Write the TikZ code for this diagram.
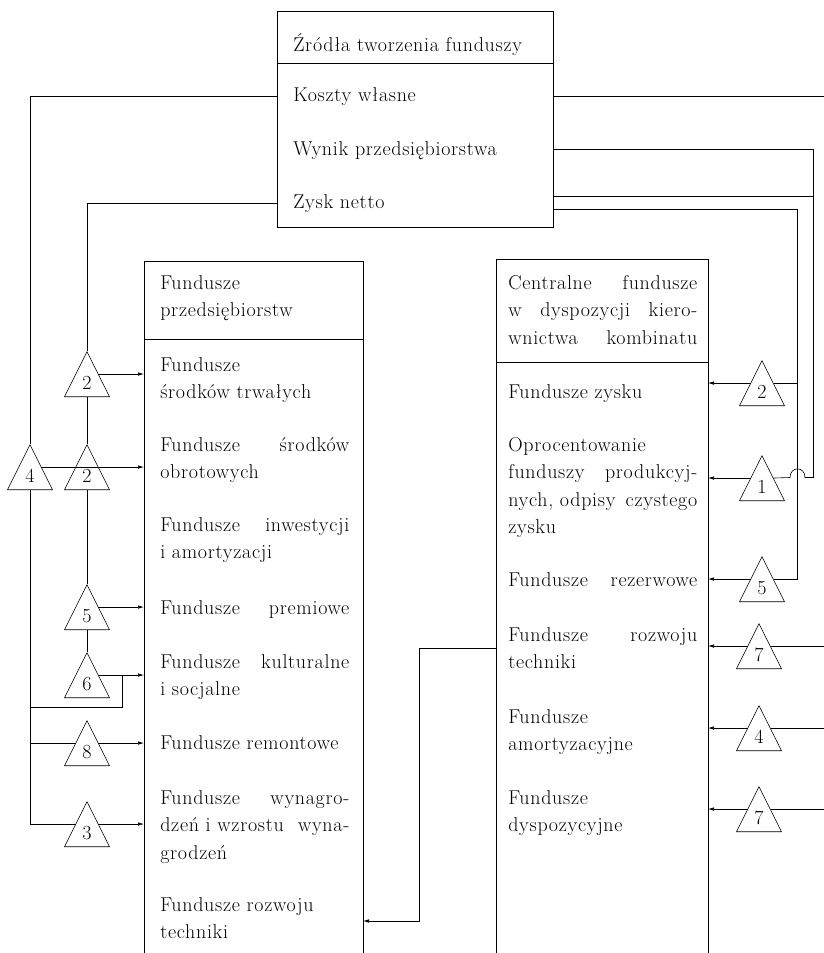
\documentclass[tikz,border=0pt]{standalone}
\usepackage{fontspec}
\setmainfont{Latin Modern Roman}[LetterSpace=3.5]
\usepackage{tikz}
\usetikzlibrary{arrows.meta, shapes.geometric}

\begin{document}
\begin{tikzpicture}[x=1pt, y=-1pt, line width=0.6pt,
    font=\fontsize{20}{27.5}\selectfont,
    frame/.style={line width=1pt},
    entry/.style={anchor=base west, inner sep=0pt},
    fund/.style={entry, text width=189pt, align=left},
    tri/.style={draw, isosceles triangle, isosceles triangle stretches,
      shape border rotate=90, minimum width=45pt, minimum height=45pt,
      inner sep=0pt, anchor=apex},
    feed/.style={arrows={-Latex[length=6pt, width=3.5pt]}}]
  \useasboundingbox (0,0) rectangle (824,953);

  % Sources.
  \node [draw, frame, anchor=north west, minimum width=276pt,
         minimum height=216pt, inner sep=0pt] (src) at (277,11) {};
  \draw [frame] (277,63) -- (553,63);
  \node [entry] (zrodla) at (293,51) {Źródła tworzenia funduszy};
  \node [entry] (koszty) at (293,101) {Koszty własne};
  \node [entry] (wynik) at (293,155) {Wynik przedsiębiorstwa};
  \node [entry] (zysk) at (293,208) {Zysk netto};
  \coordinate (wynik-e) at (553,149.5);
  \coordinate (zysk-hi) at (553,196.5);
  \coordinate (zysk-lo) at (553,209.5);

  % Enterprise funds.
  \coordinate (lbox) at (144,261);
  \coordinate (lboxe) at (363,261);
  \draw [frame] (144,960) -- (lbox) -- (lboxe) -- (363,960);
  \draw [frame] (144,339) -- (363,339);
  \node [fund] (przeds) at (160,289) {Fundusze\\przedsiębiorstw};
  \node [fund] (trwale) at (160,371) {Fundusze\\środków trwałych};
  \node [fund] (obrot) at (160,451) {Fundusze\hfill środków\\obrotowych};
  \node [fund] (inwest) at (160,531) {Fundusze\hfill inwestycji\\i amortyzacji};
  \node [fund] (premie) at (160,614) {Fundusze\hfill premiowe};
  \node [fund] (kultur) at (160,668) {Fundusze\hfill kulturalne\\i socjalne};
  \node [fund] (remont) at (160,749) {Fundusze remontowe};
  \node [fund] (placa) at (160,804)
        {Fundusze\hfill wynagro-\\dzeń i wzrostu\hfill wyna-\\grodzeń};
  \node [fund] (ltech) at (160,911) {Fundusze rozwoju\\techniki};

  % Central funds.
  \coordinate (rbox) at (496,259);
  \coordinate (rboxe) at (708,259);
  \draw [frame] (496,960) -- (rbox) -- (rboxe) -- (708,960);
  \draw [frame] (496,362) -- (708,362);
  \node [fund] (central) at (508,289)
        {Centralne\hfill fundusze\\w\hfill dyspozycji\hfill kiero-\\wnictwa\hfill kombinatu};
  \node [fund] (zyskf) at (508,398) {Fundusze zysku};
  \node [fund] (oproc) at (508,451)
        {Oprocentowanie\\funduszy\hfill produkcyj-\\nych, odpisy\hfill czystego\\zysku};
  \node [fund] (rezerwa) at (508,586) {Fundusze\hfill rezerwowe};
  \node [fund] (rtech) at (508,641) {Fundusze\hfill rozwoju\\techniki};
  \node [fund] (amort) at (508,723) {Fundusze\\amortyzacyjne};
  \node [fund] (dysp) at (508,804) {Fundusze\\dyspozycyjne};

  % Triangles.
  \node [tri] (ta) at (87,351) {2};
  \node [tri] (tb) at (87,444) {2};
  \node [tri] (t4) at (30,444) {4};
  \node [tri] (t5) at (87,584) {5};
  \node [tri] (t6) at (87,652) {6};
  \node [tri] (t8) at (87,720) {8};
  \node [tri] (t3) at (87,801) {3};
  \node [tri] (r2) at (762,360) {2};
  \node [tri] (r1) at (762,455) {1};
  \node [tri] (r5) at (762,556) {5};
  \node [tri] (r7a) at (759,623) {7};
  \node [tri] (r4) at (759,705) {4};
  \node [tri] (r7b) at (759,786) {7};
  \coordinate (edge) at (824,0);
  \coordinate (busA) at (813.5,477.5);
  \coordinate (busB) at (797.5,209.5);
  \coordinate (loop) at (122,707);
  \coordinate (link) at (419,921);

  % Left side.
  \draw (koszty.west -| src.west) -| (t4.apex);
  \draw (zysk.west -| src.west) -| (ta.apex);
  \draw (ta.lower side) -- (tb.apex);
  \draw (tb.lower side) -- (t5.apex);
  \draw (t5.lower side) -- (t6.apex);
  \draw (t4.lower side) |- (t3.left side);
  \draw (t4.lower side |- t8.left side) -- (t8.left side);
  \draw (t4.lower side |- loop) -- (loop) -- (loop |- t6.right side);
  \draw [feed] (ta.right side) -- (ta.right side -| lbox);
  \draw [feed] (t4.right side) -- (t4.right side -| lbox);
  \draw [feed] (t5.right side) -- (t5.right side -| lbox);
  \draw [feed] (t6.right side) -- (t6.right side -| lbox);
  \draw [feed] (t8.right side) -- (t8.right side -| lbox);
  \draw [feed] (t3.right side) -- (t3.right side -| lbox);

  % Right side.
  \draw (koszty.east -| src.east) -- (koszty.east -| edge);
  \draw (wynik-e) -| (busA) -- (805,477.5)
        .. controls (805,466) and (790,466) .. (790,477.5) -- (r1.right side);
  \draw (zysk-hi) -- (zysk-hi -| busA);
  \draw (zysk-lo) -| (busB |- r5.right side) -- (r5.right side);
  \draw (busB |- r2.right side) -- (r2.right side);
  \draw (r7a.right side -| edge) -- (r7a.right side);
  \draw (r4.right side -| edge) -- (r4.right side);
  \draw (r7b.right side -| edge) -- (r7b.right side);
  \draw [feed] (r2.left side) -- (r2.left side -| rboxe);
  \draw [feed] (r1.left side) -- (r1.left side -| rboxe);
  \draw [feed] (r5.left side) -- (r5.left side -| rboxe);
  \draw [feed] (r7a.left side) -- (r7a.left side -| rboxe);
  \draw [feed] (r4.left side) -- (r4.left side -| rboxe);
  \draw [feed] (r7b.left side) -- (r7b.left side -| rboxe);
  \draw [feed] (rtech.west -| rbox) -| (link) -- (link -| lboxe);
\end{tikzpicture}
\end{document}
